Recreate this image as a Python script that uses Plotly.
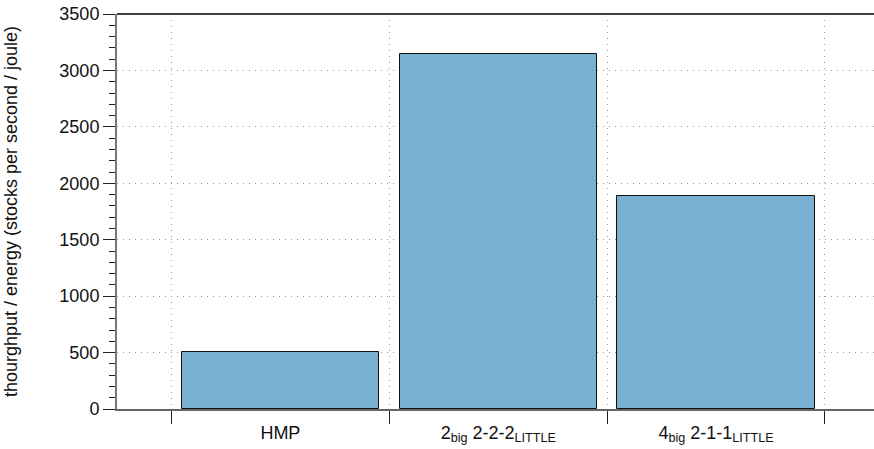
import plotly.graph_objects as go

categories = ["HMP", "2<sub>big</sub> 2-2-2<sub>LITTLE</sub>", "4<sub>big</sub> 2-1-1<sub>LITTLE</sub>"]
values = [505, 3143, 1890]
y_title = "thourghput / energy (stocks per second / joule)"

fig = go.Figure()
fig.add_trace(go.Bar(
    x=categories, y=values, width=0.905,
    marker=dict(color="#79b1d3", line=dict(color="#111111", width=1)),
))

fig.update_layout(
    width=874, height=449,
    margin=dict(l=117, r=0, t=14, b=40),
    plot_bgcolor="white", paper_bgcolor="white",
    font=dict(family="Liberation Sans, Arial, sans-serif", size=18, color="#111111"),
    showlegend=False,
    bargap=0,
)
fig.update_xaxes(
    type="category", range=[-0.75, 2.725],
    tickson="boundaries", ticks="outside", ticklen=13, tickwidth=1, tickcolor="#222222",
    showgrid=True, gridcolor="#9a9a9a", griddash="1px,5px", gridwidth=1,
    showline=True, linecolor="#666666", linewidth=2,
    tickfont=dict(size=18), ticklabelstandoff=6,
)
fig.update_yaxes(
    range=[0, 3500], dtick=500, tick0=0,
    ticks="outside", ticklen=12, tickwidth=1, tickcolor="#222222",
    minor=dict(dtick=100, ticks="outside", ticklen=6, tickcolor="#222222", showgrid=False),
    showgrid=True, gridcolor="#9a9a9a", griddash="1px,5px", gridwidth=1,
    showline=True, linecolor="#777777", linewidth=2,
    zeroline=False,
    tickfont=dict(size=18),
    title=dict(text=y_title, font=dict(size=18), standoff=37),
)
fig.add_shape(type="line", xref="paper", yref="paper", x0=0, x1=1, y0=1, y1=1,
              line=dict(color="#000000", width=1.5))

fig.write_html("out.html")
